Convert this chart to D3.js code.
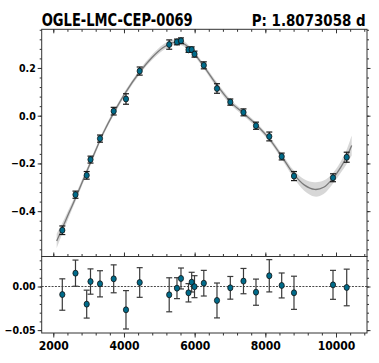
<!DOCTYPE html>
<html lang="en">
<head>
<meta charset="UTF-8">
<title>OGLE-LMC-CEP-0069</title>
<style>
  * { margin: 0; padding: 0; }
  body { background: #fff; }
  svg text { font-family: "DejaVu Sans Condensed", "DejaVu Sans", sans-serif; font-weight: bold; font-stretch: condensed; }
</style>
</head>
<body>
<div id="chart"></div>
<script src="https://cdn.jsdelivr.net/npm/d3@7"></script>
<script>
  const W = 379, H = 363
  const LEFT = 41.7, RIGHT = 367
  const TOP1 = 29.3, BOT1 = 256.5, BOT2 = 333

  // observation dates (x) and magnitudes
  const dates = [2255, 2628, 2945, 3053, 3322, 3709, 4057, 4445, 5280, 5500, 5613, 5826,
    5916, 5996, 6259, 6632, 7009, 7382, 7736, 8112, 8463, 8811, 9915, 10303]
  const mags = [-0.480, -0.331, -0.250, -0.184, -0.096, 0.019, 0.070, 0.187, 0.298, 0.309, 0.314, 0.276,
    0.277, 0.258, 0.211, 0.114, 0.057, 0.014, -0.042, -0.087, -0.171, -0.253, -0.260, -0.174]
  const errs = [0.018, 0.015, 0.016, 0.0145, 0.015, 0.016, 0.022, 0.017, 0.0195, 0.012, 0.012, 0.0105,
    0.0113, 0.0126, 0.0147, 0.020, 0.013, 0.0145, 0.015, 0.0185, 0.0143, 0.019, 0.0166, 0.021]
  const resid = [-0.0092, 0.0153, -0.0202, 0.0057, 0.0031, 0.0088, -0.0267, 0.0046, -0.0095, -0.0019, 0.0092, -0.0072,
    0.0050, -0.0002, 0.0038, -0.0160, -0.0015, 0.0062, -0.0065, 0.0123, 0.0012, -0.0072, 0.0019, -0.0011]

  // model curve: x, value, band half width
  const modelX = [2096, 2255, 2450, 2628, 2800, 3000, 3200, 3400, 3709, 4057, 4445, 4800, 5100, 5350, 5550, 5750,
    6000, 6259, 6632, 7009, 7382, 7736, 8112, 8463, 8811, 9100, 9400, 9650, 9915, 10150, 10303, 10444]
  const modelY = [-0.525, -0.472, -0.405, -0.346, -0.285, -0.215, -0.145, -0.077, 0.012, 0.100, 0.183, 0.245, 0.285, 0.304, 0.309, 0.296,
    0.258, 0.207, 0.128, 0.058, 0.010, -0.037, -0.097, -0.170, -0.246, -0.290, -0.309, -0.300, -0.262, -0.212, -0.172, -0.125]
  const modelE = [0.030, 0.022, 0.017, 0.014, 0.013, 0.012, 0.011, 0.010, 0.010, 0.010, 0.010, 0.011, 0.012, 0.012, 0.012, 0.011,
    0.010, 0.010, 0.012, 0.011, 0.010, 0.010, 0.010, 0.012, 0.016, 0.024, 0.030, 0.028, 0.022, 0.024, 0.030, 0.042]

  const xTicks = [2000, 4000, 6000, 8000, 10000]
  const yTicksTop = [-0.4, -0.2, 0.0, 0.2]
  const yTicksBot = [-0.05, 0.00]

  const svg = d3.select('#chart').append('svg')
    .attr('width', W).attr('height', H)

  const x = d3.scaleLinear().domain([1672, 10877]).range([LEFT, RIGHT])
  const y1 = d3.scaleLinear().domain([-0.59, 0.362]).range([BOT1, TOP1])
  const y2 = d3.scaleLinear().domain([-0.0533, 0.0344]).range([BOT2, BOT1])

  const minorX = d3.range(1600, 11000, 400).filter(v => v >= 1672 && v <= 10877)
  const minorY1 = d3.range(-0.56, 0.37, 0.04).filter(v => v >= -0.59 && v <= 0.362)
  const minorY2 = d3.range(-0.05, 0.035, 0.01)

  const model = modelX.map((d, i) => ({x: d, y: modelY[i], e: modelE[i]}))
  const pts = dates.map((d, i) => ({x: d, y: mags[i], e: errs[i], r: resid[i]}))

  // band + line
  svg.append('path')
    .datum(model)
    .attr('fill', '#cdcdcd')
    .attr('fill-opacity', 0.8)
    .attr('d', d3.area().curve(d3.curveCatmullRom)
      .x(d => x(d.x)).y0(d => y1(d.y - d.e)).y1(d => y1(d.y + d.e)))

  svg.append('path')
    .datum(model)
    .attr('fill', 'none')
    .attr('stroke', '#7a7a7a')
    .attr('stroke-width', 1.3)
    .attr('d', d3.line().curve(d3.curveCatmullRom).x(d => x(d.x)).y(d => y1(d.y)))

  // zero line in residual panel
  svg.append('line')
    .attr('x1', LEFT).attr('x2', RIGHT)
    .attr('y1', y2(0)).attr('y2', y2(0))
    .attr('stroke', '#333').attr('stroke-width', 0.9)
    .attr('stroke-dasharray', '2,1.3')

  function errorBars(sel, yScale, val, col) {
    const g = sel.append('g').attr('stroke', col).attr('stroke-width', 1.2)
    g.selectAll('line.v').data(pts).join('line').attr('class', 'v')
      .attr('x1', d => x(d.x)).attr('x2', d => x(d.x))
      .attr('y1', d => yScale(val(d) - d.e)).attr('y2', d => yScale(val(d) + d.e))
    g.selectAll('line.t').data(pts).join('line').attr('class', 't')
      .attr('x1', d => x(d.x) - 3).attr('x2', d => x(d.x) + 3)
      .attr('y1', d => yScale(val(d) + d.e)).attr('y2', d => yScale(val(d) + d.e))
    g.selectAll('line.b').data(pts).join('line').attr('class', 'b')
      .attr('x1', d => x(d.x) - 3).attr('x2', d => x(d.x) + 3)
      .attr('y1', d => yScale(val(d) - d.e)).attr('y2', d => yScale(val(d) - d.e))
    sel.append('g').selectAll('ellipse').data(pts).join('ellipse')
      .attr('cx', d => x(d.x)).attr('cy', d => yScale(val(d)))
      .attr('rx', 2.6).attr('ry', 3)
      .attr('fill', '#006b8a').attr('stroke', '#111').attr('stroke-width', 0.8)
  }
  errorBars(svg, y1, d => d.y, '#1a1a1a')
  errorBars(svg, y2, d => d.r, '#3a3a3a')

  // frames
  svg.append('rect').attr('x', LEFT).attr('y', TOP1).attr('width', RIGHT - LEFT).attr('height', BOT1 - TOP1)
    .attr('fill', 'none').attr('stroke', '#333').attr('stroke-width', 1)
  svg.append('rect').attr('x', LEFT).attr('y', BOT1).attr('width', RIGHT - LEFT).attr('height', BOT2 - BOT1)
    .attr('fill', 'none').attr('stroke', '#333').attr('stroke-width', 1)

  function axis(gen, tr, vals, size, fmt, fs) {
    const g = svg.append('g').attr('transform', tr)
      .call(gen.tickValues(vals).tickSize(size).tickPadding(2).tickFormat(fmt))
    g.select('.domain').remove()
    g.selectAll('line').attr('stroke', '#333')
    g.selectAll('text').attr('fill', '#000').attr('font-size', fs || 10)
    return g
  }
  const none = () => ''

  // top panel
  axis(d3.axisLeft(y1), `translate(${LEFT},0)`, minorY1, 2, none)
  axis(d3.axisLeft(y1), `translate(${LEFT},0)`, yTicksTop, 4, d3.format('.1f'), 10.5)
  axis(d3.axisRight(y1), `translate(${RIGHT},0)`, minorY1, 2, none)
  axis(d3.axisRight(y1), `translate(${RIGHT},0)`, yTicksTop, 3.5, none)
  axis(d3.axisBottom(x), `translate(0,${TOP1})`, minorX, 2.5, none)
  axis(d3.axisBottom(x), `translate(0,${TOP1})`, xTicks, 4, none)
  axis(d3.axisTop(x), `translate(0,${BOT1})`, minorX, 2.5, none)
  axis(d3.axisTop(x), `translate(0,${BOT1})`, xTicks, 4, none)

  // residual panel
  axis(d3.axisLeft(y2), `translate(${LEFT},0)`, minorY2, 2, none)
  axis(d3.axisLeft(y2), `translate(${LEFT},0)`, yTicksBot, 4, d3.format('.2f'), 10.5)
  axis(d3.axisRight(y2), `translate(${RIGHT},0)`, minorY2, 2, none)
  axis(d3.axisRight(y2), `translate(${RIGHT},0)`, yTicksBot, 3.5, none)
  axis(d3.axisBottom(x), `translate(0,${BOT2})`, minorX, 2.5, none)
  axis(d3.axisBottom(x), `translate(0,${BOT2})`, xTicks, 4.5, d3.format('d'), 12)
    .selectAll('text').attr('dy', '0.9em')

  // title
  svg.append('text').attr('x', LEFT).attr('y', 26)
    .attr('font-size', 17.5).attr('textLength', 151).attr('lengthAdjust', 'spacingAndGlyphs')
    .text('OGLE-LMC-CEP-0069')
  svg.append('text').attr('x', 251.7).attr('y', 26)
    .attr('font-size', 16.5).attr('textLength', 114).attr('lengthAdjust', 'spacingAndGlyphs')
    .text('P: 1.8073058 d')
</script>
</body>
</html>
